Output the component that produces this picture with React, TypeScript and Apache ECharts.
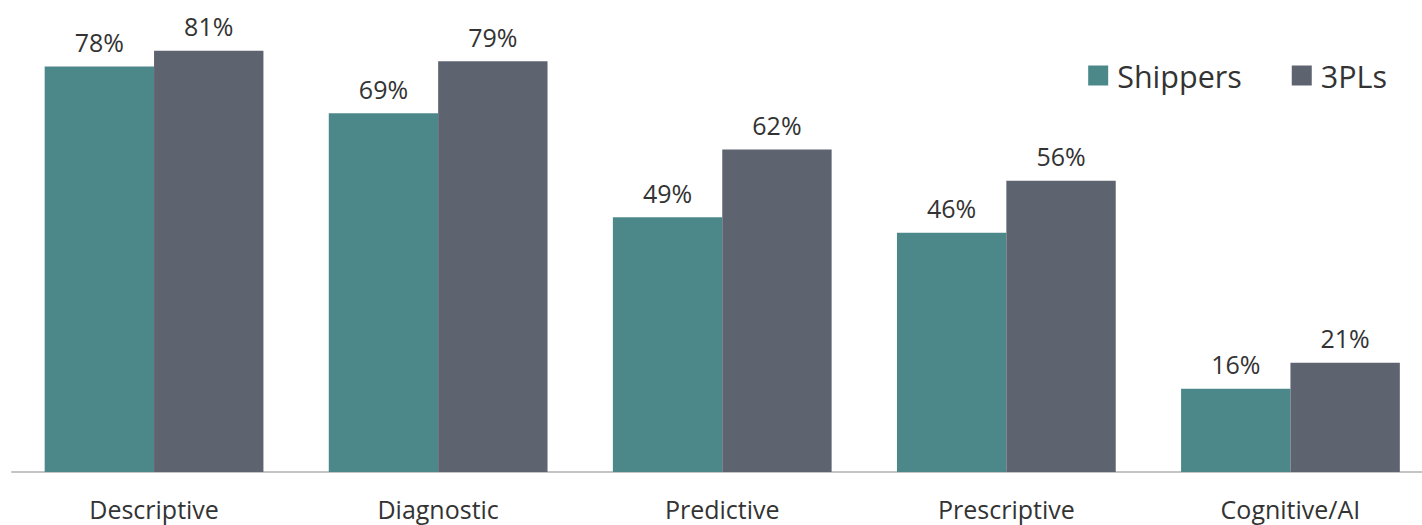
import React, { useEffect, useRef } from "react";
import * as echarts from "echarts";

const categories = ["Descriptive", "Diagnostic", "Predictive", "Prescriptive", "Cognitive/AI"];
const shippers = [78, 69, 49, 46, 16];
const threePLs = [81, 79, 62, 56, 21];

const FONT = "'Open Sans', 'Noto Sans', sans-serif";
const TEXT = "#333333";

// The plot runs slightly past the right edge of the visible page, so the
// canvas is wider than the viewport and the overflow is simply cut off.
const CANVAS_W = 1440;

export default function App() {
  const ref = useRef<HTMLDivElement>(null);

  useEffect(() => {
    if (!ref.current) return;
    const chart = echarts.init(ref.current, null, { renderer: "svg" });
    const label = {
      show: true,
      position: "top",
      distance: 12,
      formatter: "{c}%",
      color: TEXT,
      fontSize: 25,
      fontFamily: FONT,
    };
    chart.setOption({
      animation: false,
      backgroundColor: "#ffffff",
      textStyle: { fontFamily: FONT },
      legend: {
        right: 30 + (CANVAS_W - 1422),
        top: 55,
        itemWidth: 20,
        itemHeight: 20,
        itemGap: 50,
        icon: "rect",
        textStyle: {
          fontSize: 30.5,
          color: TEXT,
          fontFamily: FONT,
          padding: [0, 0, 0, 4],
        },
        data: ["Shippers", "3PLs"],
      },
      grid: { left: 12, right: CANVAS_W - 1432.5, top: 4, bottom: 53, containLabel: false },
      xAxis: {
        type: "category",
        data: categories,
        axisLine: { show: true, lineStyle: { color: "#c4c4c4", width: 2 } },
        axisTick: { show: false },
        axisLabel: {
          color: TEXT,
          fontSize: 25,
          fontFamily: FONT,
          margin: 24,
        },
      },
      yAxis: {
        type: "value",
        min: 0,
        max: 90,
        show: false,
        splitLine: { show: false },
      },
      series: [
        {
          name: "Shippers",
          type: "bar",
          data: shippers,
          barGap: "0%",
          barCategoryGap: "23%",
          itemStyle: { color: "#4c8889" },
          label,
        },
        {
          name: "3PLs",
          type: "bar",
          data: threePLs,
          barGap: "0%",
          barCategoryGap: "23%",
          itemStyle: { color: "#5e6370" },
          label,
        },
      ],
    });
    return () => chart.dispose();
  }, []);

  return (
    <div
      ref={ref}
      style={{ position: "fixed", left: 0, top: 0, width: CANVAS_W, height: 525 }}
    />
  );
}
